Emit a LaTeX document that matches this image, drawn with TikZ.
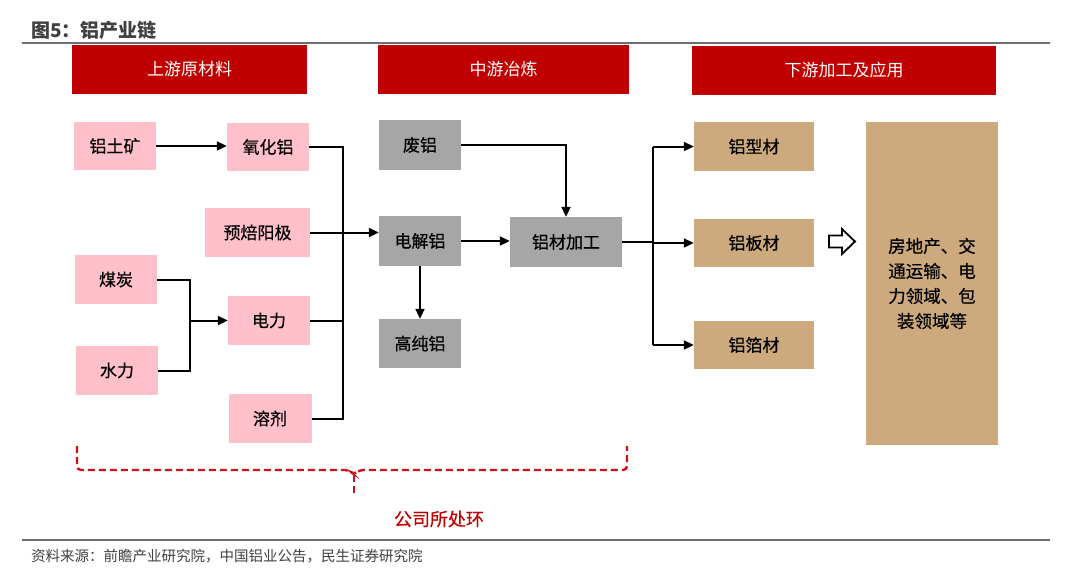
\documentclass[tikz,border=0pt]{standalone}
\usepackage{fontspec}
\setmainfont{Noto Sans CJK SC}
\newfontfamily\medfont[FakeBold=0.5]{Noto Sans CJK SC}
\usetikzlibrary{arrows.meta}
\definecolor{hdred}{HTML}{C00000}
\definecolor{pinkbox}{HTML}{FFC0CB}
\definecolor{graybox}{HTML}{A6A6A6}
\definecolor{tanbox}{HTML}{CDAA7D}
\definecolor{darktext}{HTML}{404040}
\definecolor{rulegray}{HTML}{6E6E6E}
\definecolor{bracered}{HTML}{D0101A}
\tikzset{
  box/.style={inner sep=0pt, text=black, font=\medfont\fontsize{17}{20}\selectfont},
  pinkb/.style={box, fill=pinkbox},
  grayb/.style={box, fill=graybox},
  tanb/.style={box, fill=tanbox},
  hdr/.style={inner sep=0pt, fill=hdred, text=white, minimum height=49pt, font=\fontsize{17}{20}\selectfont},
  line/.style={draw=black, line width=2pt},
  arr/.style={line, -{Triangle[length=10pt,width=9pt]}},
  brace/.style={draw=bracered, line width=2.4pt, dash pattern=on 7pt off 4pt},
}
\begin{document}
\begin{tikzpicture}[x=1pt,y=-1pt]
\useasboundingbox (0,0) rectangle (1080,574);
% title and rules
\node[anchor=west, inner sep=0pt, text=darktext, font=\fontsize{19}{22}\selectfont\bfseries] (title) at (31,30) {图5：铝产业链};
\draw[draw=rulegray, line width=2pt] (22,43) -- (1050,43);
\draw[draw=rulegray, line width=1.5pt] (22,540) -- (1050,540);
\node[anchor=west, inner sep=0pt, text=darktext, font=\fontsize{14.5}{17}\selectfont] (src) at (31,556) {资料来源：前瞻产业研究院，中国铝业公告，民生证券研究院};
% headers
\node[hdr, minimum width=235pt] (h1) at (189.5,69.5) {上游原材料};
\node[hdr, minimum width=251pt] (h2) at (503.5,69.5) {中游冶炼};
\node[hdr, minimum width=304pt] (h3) at (844,70) {下游加工及应用};
% upstream boxes
\node[pinkb, minimum width=82pt, minimum height=48pt] (ltk) at (115,146) {铝土矿};
\node[pinkb, minimum width=82pt, minimum height=48pt] (yhl) at (268,147) {氧化铝};
\node[pinkb, minimum width=105pt, minimum height=49pt] (ybyj) at (257.5,232.5) {预焙阳极};
\node[pinkb, minimum width=82pt, minimum height=49pt] (mt) at (116,279.5) {煤炭};
\node[pinkb, minimum width=82pt, minimum height=49pt] (dl) at (269,320.5) {电力};
\node[pinkb, minimum width=82pt, minimum height=49pt] (sl) at (117,370.5) {水力};
\node[pinkb, minimum width=83pt, minimum height=49pt] (rj) at (270,418.5) {溶剂};
% midstream boxes
\node[grayb, minimum width=82pt, minimum height=50pt] (fl) at (420,145) {废铝};
\node[grayb, minimum width=82pt, minimum height=50pt] (djl) at (420,241) {电解铝};
\node[grayb, minimum width=82pt, minimum height=49pt] (gcl) at (420,343.5) {高纯铝};
\node[grayb, minimum width=112pt, minimum height=50pt] (lcjg) at (566,242) {铝材加工};
% downstream boxes
\node[tanb, minimum width=120pt, minimum height=49pt] (lxc) at (754,146.5) {铝型材};
\node[tanb, minimum width=120pt, minimum height=48pt] (lbc) at (754,243) {铝板材};
\node[tanb, minimum width=120pt, minimum height=48pt] (lbo) at (754,345) {铝箔材};
\node[tanb, minimum width=132pt, minimum height=323pt, align=center, font=\medfont\fontsize{17.5}{25}\selectfont] (app) at (932,283.5) {房地产、交\\通运输、电\\力领域、包\\装领域等};
% bus coordinates
\coordinate (busC) at (190,0);
\coordinate (busL) at (343,0);
\coordinate (busR) at (653,0);
% upstream connectors
\draw[arr] (ltk.east) -- (ltk.east -| yhl.west);
\draw[line] (mt.east) -| (busC |- sl.east) -- (sl.east);
\draw[arr] (busC |- dl.west) -- (dl.west);
\draw[line] (yhl.east) -- (busL |- yhl.east) -- (busL |- rj.east) -- (rj.east);
\draw[line] (dl.east) -- (busL |- dl.east);
\draw[arr] (ybyj.east) -- (ybyj.east -| djl.west);
% midstream connectors
\draw[arr] (fl.east) -| (lcjg.north);
\draw[arr] (djl.east) -- (djl.east -| lcjg.west);
\draw[arr] (djl.south) -- (djl.south |- gcl.north);
\draw[line] (lcjg.east) -- (busR |- lcjg.east);
\draw[line] (busR |- lxc.west) -- (busR |- lbo.west);
\draw[arr] (busR |- lxc.west) -- (lxc.west);
\draw[arr] (busR |- lbc.west) -- (lbc.west);
\draw[arr] (busR |- lbo.west) -- (lbo.west);
% hollow arrow
\draw[draw=black, fill=white, line width=1.8pt, line join=miter]
  (829,235.5) -- (842,235.5) -- (842,229) -- (855,241.5) -- (842,254) -- (842,247.5) -- (829,247.5) -- cycle;
% dashed brace
\draw[brace, rounded corners=4pt] (77,446) -- (77,470) -- (349,470) -- (354,475) -- (359,470) -- (627,470) -- (627,446);
\draw[brace] (354,475) -- (354,494);
\node[inner sep=0pt, text=hdred, font=\medfont\fontsize{18}{21}\selectfont] (company) at (439,519) {公司所处环};
\end{tikzpicture}
\end{document}
